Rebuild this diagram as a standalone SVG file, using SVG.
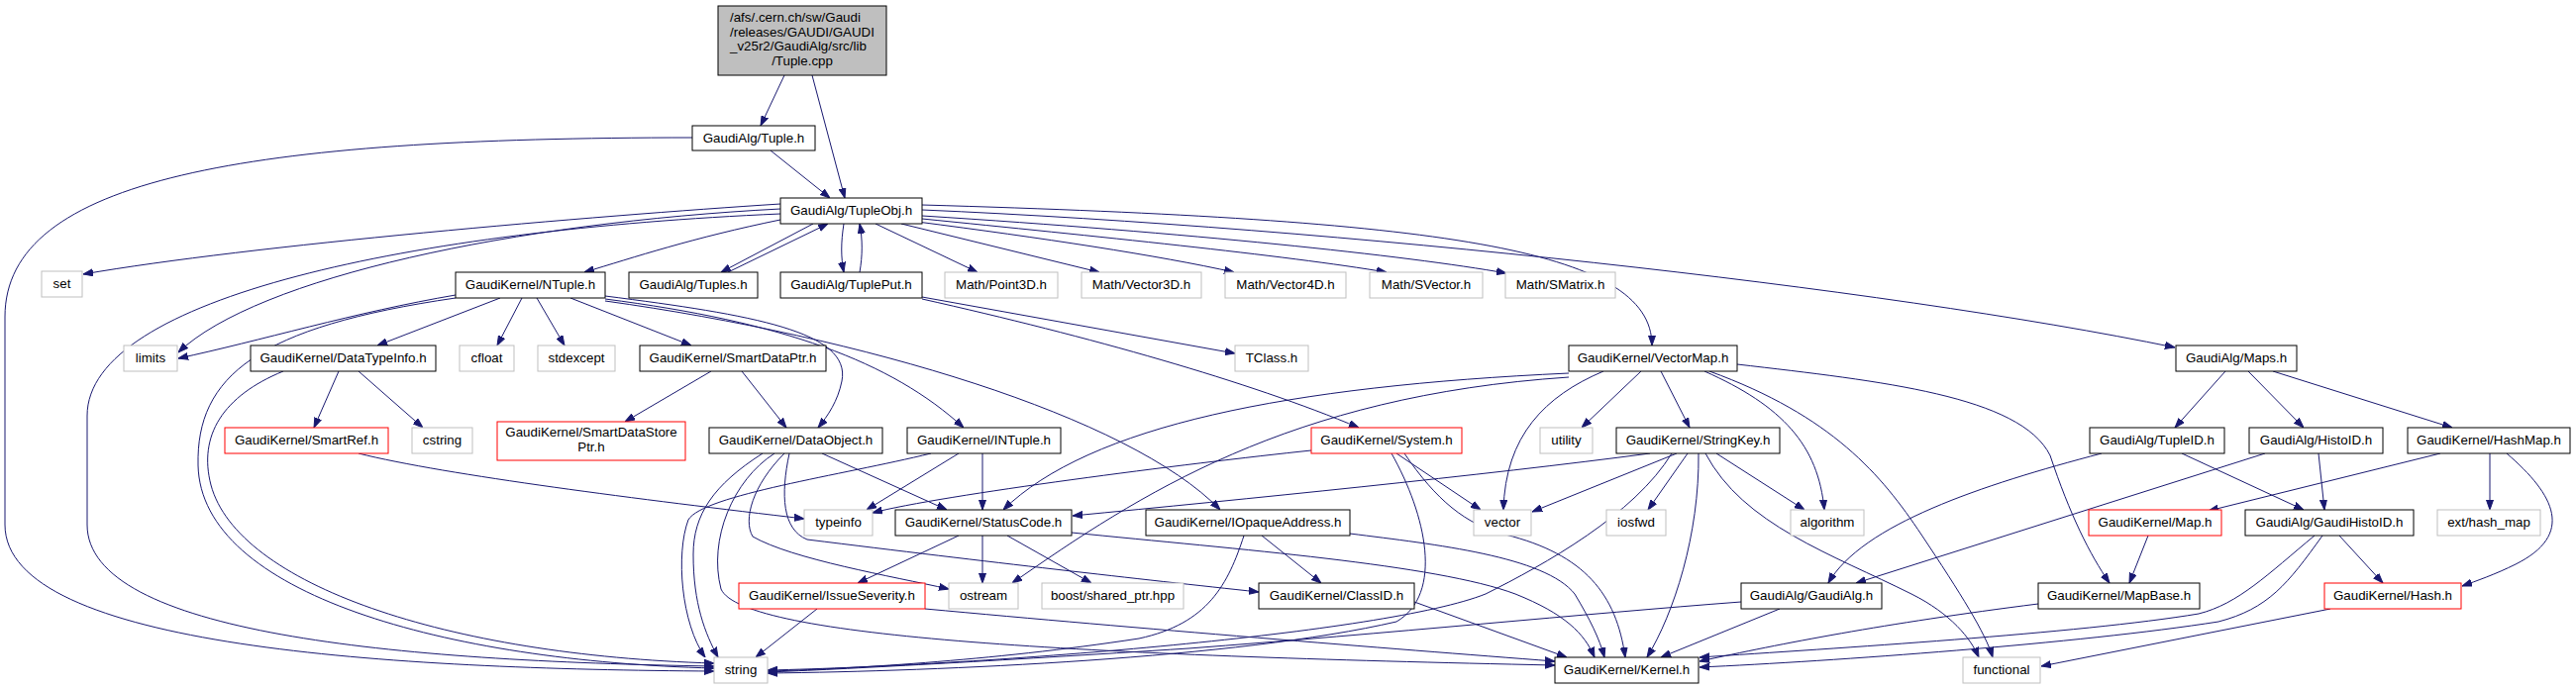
<svg xmlns="http://www.w3.org/2000/svg" width="2601" height="696" viewBox="0 0 2601 696">
<style>
rect{fill:#fff;stroke:#000;stroke-width:1}
.g rect{stroke:#bfbfbf}
.r rect{stroke:#ff0000}
.root rect{fill:#bfbfbf}
text{font-family:"Liberation Sans",Arial,Helvetica,sans-serif;font-size:13.33px;text-anchor:middle;fill:#000}
#edges path{fill:none;stroke:#191970;stroke-width:1;marker-end:url(#a)}
</style>
<defs>
<marker id="a" markerWidth="10" markerHeight="8" refX="10" refY="4" orient="auto" markerUnits="userSpaceOnUse"><path d="M0,0.5 L10,4 L0,7.5 z" fill="#191970" stroke="#191970" stroke-width="1"/></marker>
</defs>
<rect x="0" y="0" width="2601" height="696" style="fill:#fff;stroke:none"/>
<g id="edges">
<path d="M792,76 L768,127"/>
<path d="M820,76 L853,200"/>
<path d="M778,152 L838,200"/>
<path d="M699,139 C250,139 5,180 5,320 L5,530 C5,655 400,676 721,678"/>
<path d="M788,206 C600,218 250,248 84,277"/>
<path d="M788,211 C520,225 260,280 180,356"/>
<path d="M788,216 C420,232 88,300 88,420 L88,530 C88,640 400,668 721,673"/>
<path d="M788,222 C700,240 640,260 590,275"/>
<path d="M821,226 L728,275"/>
<path d="M735,275 L836,226"/>
<path d="M852,226 C849,245 849,260 852,275"/>
<path d="M868,275 C871,258 871,242 868,226"/>
<path d="M884,226 L987,275"/>
<path d="M910,226 L1110,275"/>
<path d="M926,224 C1050,240 1170,258 1246,275"/>
<path d="M931,221 C1100,238 1300,258 1400,275"/>
<path d="M931,218 C1200,235 1420,258 1521,276"/>
<path d="M931,207 C1450,222 1668,250 1668,349"/>
<path d="M931,212 C1350,230 1900,290 2196,351"/>
<path d="M931,300 L1247,357"/>
<path d="M931,302 C1100,340 1260,385 1372,432"/>
<path d="M460,298 C360,315 260,345 180,362"/>
<path d="M460,301 C260,330 198,380 200,470 C203,600 450,668 721,675"/>
<path d="M505,301 L381,349"/>
<path d="M527,301 L502,349"/>
<path d="M542,301 L570,349"/>
<path d="M576,301 L698,349"/>
<path d="M611,299 C760,318 860,335 850,385 C846,405 836,420 826,432"/>
<path d="M611,302 C790,325 900,365 973,432"/>
<path d="M611,304 C870,340 1140,420 1232,515"/>
<path d="M342,375 L317,432"/>
<path d="M362,375 L427,432"/>
<path d="M286,375 C225,400 200,440 213,490 C240,590 450,662 721,670"/>
<path d="M362,458 C450,480 650,505 812,524"/>
<path d="M718,375 L631,426"/>
<path d="M749,375 L794,432"/>
<path d="M830,458 L956,515"/>
<path d="M797,458 C788,500 790,535 815,545 C1000,568 1150,585 1271,598"/>
<path d="M792,458 C760,490 750,525 760,542 C800,565 900,582 958,595"/>
<path d="M782,458 C740,485 715,545 728,595 C750,645 1100,662 1570,672"/>
<path d="M770,458 C720,490 700,520 700,560 C700,610 712,640 725,664"/>
<path d="M968,458 L875,515"/>
<path d="M992,458 L992,515"/>
<path d="M940,458 C850,480 710,500 695,525 C682,560 688,630 712,664"/>
<path d="M1324,455 C1200,468 950,500 881,518"/>
<path d="M1405,458 C1440,520 1458,600 1410,628 C1250,665 950,678 775,680"/>
<path d="M1410,458 L1495,515"/>
<path d="M1418,458 C1450,505 1480,530 1520,540 C1600,560 1632,600 1641,664"/>
<path d="M968,541 L866,589"/>
<path d="M992,541 L992,589"/>
<path d="M1017,541 L1102,589"/>
<path d="M1082,538 C1250,555 1450,570 1530,600 C1580,620 1600,640 1610,664"/>
<path d="M825,615 L763,664"/>
<path d="M934,615 C1150,635 1400,655 1570,668"/>
<path d="M1274,541 L1334,589"/>
<path d="M1256,541 C1240,590 1220,630 1150,645 C1000,668 850,676 775,678"/>
<path d="M1363,539 C1450,550 1560,562 1590,600 C1605,625 1615,645 1620,664"/>
<path d="M1428,608 L1582,664"/>
<path d="M1584,377 C1300,390 1100,430 1013,515"/>
<path d="M1584,381 C1300,400 1150,500 1022,589"/>
<path d="M1657,375 L1597,432"/>
<path d="M1677,375 L1706,432"/>
<path d="M1619,375 C1560,400 1520,440 1518,515"/>
<path d="M1721,375 C1800,410 1836,450 1842,515"/>
<path d="M1726,375 C1850,420 1900,480 1940,540 C1980,600 2005,640 2012,664"/>
<path d="M1754,368 C1900,385 2040,400 2070,460 C2090,520 2110,560 2130,589"/>
<path d="M1666,458 C1500,480 1250,505 1083,521"/>
<path d="M1693,458 L1547,517"/>
<path d="M1704,458 L1664,515"/>
<path d="M1733,458 L1822,515"/>
<path d="M1715,458 C1716,540 1690,620 1663,664"/>
<path d="M1722,458 C1760,530 1850,560 1930,600 C1970,620 1990,645 1998,664"/>
<path d="M1688,458 C1650,520 1560,570 1500,600 C1400,640 1000,672 775,677"/>
<path d="M2247,375 L2196,432"/>
<path d="M2270,375 L2326,432"/>
<path d="M2295,375 L2476,432"/>
<path d="M2122,458 C2000,490 1880,530 1846,589"/>
<path d="M2203,458 L2326,515"/>
<path d="M2287,458 L1874,589"/>
<path d="M2341,458 L2347,515"/>
<path d="M2464,458 L2230,516"/>
<path d="M2514,458 L2514,515"/>
<path d="M2531,458 C2580,500 2600,540 2540,570 C2520,580 2500,587 2486,592"/>
<path d="M2169,541 L2150,589"/>
<path d="M2362,541 L2406,589"/>
<path d="M2337,541 C2290,580 2260,610 2220,620 C2100,640 1850,655 1716,664"/>
<path d="M2345,541 C2310,590 2290,615 2240,628 C2100,650 1850,668 1716,674"/>
<path d="M1758,608 C1600,620 1400,640 1200,655 C1000,668 850,676 775,679"/>
<path d="M1797,615 L1677,664"/>
<path d="M2058,610 C1900,630 1800,650 1716,668"/>
<path d="M2353,615 L2061,673"/>
</g>
<g id="n_root" class="root"><rect x="725" y="6" width="170" height="70"/>
<text x="737" y="22" style="text-anchor:start">/afs/.cern.ch/sw/Gaudi</text>
<text x="737" y="36.5" style="text-anchor:start">/releases/GAUDI/GAUDI</text>
<text x="737" y="51" style="text-anchor:start">_v25r2/GaudiAlg/src/lib</text>
<text x="810" y="65.5">/Tuple.cpp</text></g>
<g id="n_tupleh"><rect x="699" y="127" width="124" height="25"/><text x="761" y="144">GaudiAlg/Tuple.h</text></g>
<g id="n_tupleobj"><rect x="788" y="200" width="143" height="26"/><text x="859.5" y="217">GaudiAlg/TupleObj.h</text></g>
<g id="n_set" class="g"><rect x="42" y="274" width="41" height="26"/><text x="62.5" y="291">set</text></g>
<g id="n_ntuple"><rect x="460" y="275" width="151" height="26"/><text x="535.5" y="292">GaudiKernel/NTuple.h</text></g>
<g id="n_tuples"><rect x="635" y="275" width="130" height="26"/><text x="700" y="292">GaudiAlg/Tuples.h</text></g>
<g id="n_tupleput"><rect x="788" y="275" width="143" height="26"/><text x="859.5" y="292">GaudiAlg/TuplePut.h</text></g>
<g id="n_point3d" class="g"><rect x="954" y="275" width="114" height="26"/><text x="1011" y="292">Math/Point3D.h</text></g>
<g id="n_vector3d" class="g"><rect x="1092" y="275" width="121" height="26"/><text x="1152.5" y="292">Math/Vector3D.h</text></g>
<g id="n_vector4d" class="g"><rect x="1237" y="275" width="122" height="26"/><text x="1298" y="292">Math/Vector4D.h</text></g>
<g id="n_svector" class="g"><rect x="1383" y="275" width="114" height="26"/><text x="1440" y="292">Math/SVector.h</text></g>
<g id="n_smatrix" class="g"><rect x="1520" y="275" width="111" height="26"/><text x="1575.5" y="292">Math/SMatrix.h</text></g>
<g id="n_limits" class="g"><rect x="125" y="349" width="54" height="26"/><text x="152" y="366">limits</text></g>
<g id="n_datatypeinfo"><rect x="253" y="349" width="187" height="26"/><text x="346.5" y="366">GaudiKernel/DataTypeInfo.h</text></g>
<g id="n_cfloat" class="g"><rect x="464" y="349" width="55" height="26"/><text x="491.5" y="366">cfloat</text></g>
<g id="n_stdexcept" class="g"><rect x="543" y="349" width="78" height="26"/><text x="582" y="366">stdexcept</text></g>
<g id="n_smartdataptr"><rect x="646" y="349" width="188" height="26"/><text x="740" y="366">GaudiKernel/SmartDataPtr.h</text></g>
<g id="n_tclass" class="g"><rect x="1247" y="349" width="74" height="26"/><text x="1284" y="366">TClass.h</text></g>
<g id="n_vectormap"><rect x="1584" y="349" width="170" height="26"/><text x="1669" y="366">GaudiKernel/VectorMap.h</text></g>
<g id="n_maps"><rect x="2197" y="349" width="122" height="26"/><text x="2258" y="366">GaudiAlg/Maps.h</text></g>
<g id="n_smartref" class="r"><rect x="227" y="432" width="165" height="26"/><text x="309.5" y="449">GaudiKernel/SmartRef.h</text></g>
<g id="n_cstring" class="g"><rect x="416" y="432" width="61" height="26"/><text x="446.5" y="449">cstring</text></g>
<g id="n_smartdatastoreptr" class="r"><rect x="502" y="426" width="190" height="39"/><text x="597" y="441">GaudiKernel/SmartDataStore</text><text x="597" y="456">Ptr.h</text></g>
<g id="n_dataobject"><rect x="716" y="432" width="175" height="26"/><text x="803.5" y="449">GaudiKernel/DataObject.h</text></g>
<g id="n_intuple"><rect x="916" y="432" width="155" height="26"/><text x="993.5" y="449">GaudiKernel/INTuple.h</text></g>
<g id="n_system" class="r"><rect x="1324" y="432" width="152" height="26"/><text x="1400" y="449">GaudiKernel/System.h</text></g>
<g id="n_utility" class="g"><rect x="1555" y="432" width="53" height="26"/><text x="1581.5" y="449">utility</text></g>
<g id="n_stringkey"><rect x="1632" y="432" width="165" height="26"/><text x="1714.5" y="449">GaudiKernel/StringKey.h</text></g>
<g id="n_tupleid"><rect x="2110" y="432" width="136" height="26"/><text x="2178" y="449">GaudiAlg/TupleID.h</text></g>
<g id="n_histoid"><rect x="2271" y="432" width="135" height="26"/><text x="2338.5" y="449">GaudiAlg/HistoID.h</text></g>
<g id="n_hashmap"><rect x="2431" y="432" width="164" height="26"/><text x="2513" y="449">GaudiKernel/HashMap.h</text></g>
<g id="n_typeinfo" class="g"><rect x="812" y="515" width="69" height="26"/><text x="846.5" y="532">typeinfo</text></g>
<g id="n_statuscode"><rect x="904" y="515" width="178" height="26"/><text x="993" y="532">GaudiKernel/StatusCode.h</text></g>
<g id="n_iopaque"><rect x="1157" y="515" width="206" height="26"/><text x="1260" y="532">GaudiKernel/IOpaqueAddress.h</text></g>
<g id="n_vector" class="g"><rect x="1488" y="515" width="58" height="26"/><text x="1517" y="532">vector</text></g>
<g id="n_iosfwd" class="g"><rect x="1622" y="515" width="60" height="26"/><text x="1652" y="532">iosfwd</text></g>
<g id="n_algorithm" class="g"><rect x="1808" y="515" width="74" height="26"/><text x="1845" y="532">algorithm</text></g>
<g id="n_map" class="r"><rect x="2109" y="515" width="134" height="26"/><text x="2176" y="532">GaudiKernel/Map.h</text></g>
<g id="n_gaudihistoid"><rect x="2267" y="515" width="170" height="26"/><text x="2352" y="532">GaudiAlg/GaudiHistoID.h</text></g>
<g id="n_hash_map" class="g"><rect x="2461" y="515" width="104" height="26"/><text x="2513" y="532">ext/hash_map</text></g>
<g id="n_issueseverity" class="r"><rect x="746" y="589" width="188" height="26"/><text x="840" y="606">GaudiKernel/IssueSeverity.h</text></g>
<g id="n_ostream" class="g"><rect x="958" y="589" width="70" height="26"/><text x="993" y="606">ostream</text></g>
<g id="n_boost" class="g"><rect x="1052" y="589" width="143" height="26"/><text x="1123.5" y="606">boost/shared_ptr.hpp</text></g>
<g id="n_classid"><rect x="1271" y="589" width="157" height="26"/><text x="1349.5" y="606">GaudiKernel/ClassID.h</text></g>
<g id="n_gaudialg"><rect x="1758" y="589" width="142" height="26"/><text x="1829" y="606">GaudiAlg/GaudiAlg.h</text></g>
<g id="n_mapbase"><rect x="2058" y="589" width="163" height="26"/><text x="2139.5" y="606">GaudiKernel/MapBase.h</text></g>
<g id="n_hash" class="r"><rect x="2347" y="589" width="138" height="26"/><text x="2416" y="606">GaudiKernel/Hash.h</text></g>
<g id="n_string" class="g"><rect x="721" y="664" width="54" height="26"/><text x="748" y="681">string</text></g>
<g id="n_kernel"><rect x="1570" y="664" width="145" height="26"/><text x="1642.5" y="681">GaudiKernel/Kernel.h</text></g>
<g id="n_functional" class="g"><rect x="1982" y="664" width="78" height="26"/><text x="2021" y="681">functional</text></g>
</svg>
